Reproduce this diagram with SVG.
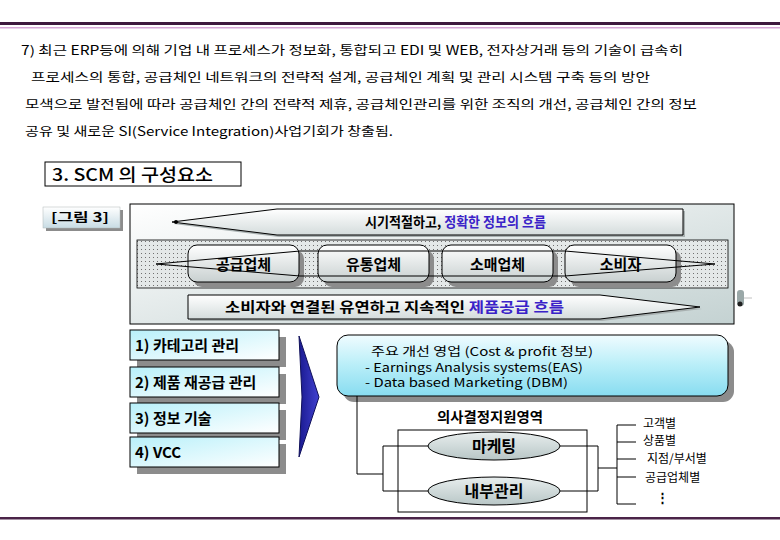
<svg xmlns="http://www.w3.org/2000/svg" width="780" height="540" viewBox="0 0 780 540">
<defs>
<linearGradient id="gPanel" x1="0" y1="0" x2="1" y2="1">
<stop offset="0" stop-color="#ffffff"/><stop offset="1" stop-color="#c4d2d2"/>
</linearGradient>
<linearGradient id="gBand" x1="0" y1="0" x2="0" y2="1">
<stop offset="0" stop-color="#ffffff"/><stop offset="1" stop-color="#d4dcdc"/>
</linearGradient>
<linearGradient id="gRound" x1="0" y1="0" x2="0" y2="1">
<stop offset="0" stop-color="#ffffff"/><stop offset="1" stop-color="#c8d0d0"/>
</linearGradient>
<linearGradient id="gCyan" x1="0" y1="0" x2="1" y2="1">
<stop offset="0" stop-color="#b8f0fa"/><stop offset="1" stop-color="#ffffff"/>
</linearGradient>
<linearGradient id="gCyanBox" x1="0" y1="0" x2="0" y2="1">
<stop offset="0" stop-color="#f0fcff"/><stop offset="0.5" stop-color="#b8eef8"/><stop offset="1" stop-color="#88dcf0"/>
</linearGradient>
<linearGradient id="gBlue" x1="0" y1="0" x2="1" y2="0">
<stop offset="0" stop-color="#1a1a90"/><stop offset="1" stop-color="#4040d0"/>
</linearGradient>
<linearGradient id="gEll" x1="0" y1="0" x2="0" y2="1">
<stop offset="0" stop-color="#e8eeee"/><stop offset="1" stop-color="#b8c6c6"/>
</linearGradient>
<linearGradient id="gTag" x1="0" y1="0" x2="0" y2="1">
<stop offset="0" stop-color="#ffffff"/><stop offset="1" stop-color="#c8dce4"/>
</linearGradient>
<pattern id="dots" width="4" height="4" patternUnits="userSpaceOnUse">
<rect width="4" height="4" fill="#e4e8e8"/><rect x="1" y="1" width="1" height="1" fill="#707070"/>
</pattern>
</defs>
<style>
.t{font-family:"Noto Sans CJK KR","Noto Sans",sans-serif;fill:#000}
.body{font-size:12.5px}
.b{font-weight:bold}
.blue{fill:#3a22c8}
.ln{stroke:#000;stroke-width:1;fill:none}
.shadow{fill:#8c8c8c}
</style>
<rect width="780" height="540" fill="#ffffff"/>
<!-- rules -->
<rect x="0" y="22" width="780" height="3" fill="#3e1a3e"/>
<rect x="0" y="27" width="780" height="1.5" fill="#d8a8d8"/>
<rect x="0" y="517" width="780" height="2.5" fill="#4a2448"/>

<g id="paragraph">
<text class="t body" x="21" y="55" textLength="662" lengthAdjust="spacingAndGlyphs">7) 최근 ERP등에 의해 기업 내 프로세스가 정보화, 통합되고 EDI 및 WEB, 전자상거래 등의 기술이 급속히</text>
<text class="t body" x="31" y="82" textLength="619" lengthAdjust="spacingAndGlyphs">프로세스의 통합, 공급체인 네트워크의 전략적 설계, 공급체인 계획 및  관리 시스템 구축 등의 방안</text>
<text class="t body" x="25" y="109" textLength="672" lengthAdjust="spacingAndGlyphs">모색으로 발전됨에 따라 공급체인 간의 전략적 제휴, 공급체인관리를 위한 조직의 개선, 공급체인 간의 정보</text>
<text class="t body" x="25" y="136" textLength="368" lengthAdjust="spacingAndGlyphs">공유 및 새로운 SI(Service Integration)사업기회가 창출됨.</text>
</g>

<g id="title">
<rect x="45" y="162" width="196" height="24" fill="#ffffff" stroke="#000" stroke-width="1"/>
<text class="t" x="52" y="181" font-size="17" font-weight="500" textLength="161" lengthAdjust="spacingAndGlyphs">3. SCM 의 구성요소</text>
</g>

<g id="figure-tag">
<rect x="46" y="210" width="77" height="21" class="shadow"/>
<rect x="43" y="207" width="77" height="21" fill="url(#gTag)" stroke="#b0b8b8" stroke-width="0.5"/>
<text class="t b" x="51" y="222" font-size="12.5" textLength="58" lengthAdjust="spacingAndGlyphs">[그림 3]</text>
</g>

<g id="panel">
<rect x="130" y="204" width="604" height="120" fill="url(#gPanel)" stroke="#000" stroke-width="1"/>
</g>

<g id="info-flow">
<polygon points="174,224 279,211 685,211 685,237 279,237" fill="#a8b0b0"/>
<polygon points="172,222 277,209 683,209 683,235 277,235" fill="url(#gBand)" stroke="#000" stroke-width="1"/>
<circle cx="176" cy="222" r="2" fill="#000"/>
<text class="t b" x="365" y="227" font-size="14" textLength="181" lengthAdjust="spacingAndGlyphs">시기적절하고, <tspan class="blue">정확한 정보의 흐름</tspan></text>
</g>

<g id="partner-band">
<rect x="137" y="240" width="591" height="48" fill="url(#dots)" stroke="#000" stroke-width="0.8"/>
</g>

<g id="supplier">
<rect x="193" y="250" width="111" height="37" rx="9" class="shadow"/>
<rect x="188" y="245" width="111" height="37" rx="9" fill="url(#gRound)" stroke="#000" stroke-width="1"/>
<text class="t b" x="243.5" y="270" font-size="15" text-anchor="middle">공급업체</text>
</g>
<g id="distributor">
<rect x="323" y="250" width="111" height="37" rx="9" class="shadow"/>
<rect x="318" y="245" width="111" height="37" rx="9" fill="url(#gRound)" stroke="#000" stroke-width="1"/>
<text class="t b" x="373.5" y="270" font-size="15" text-anchor="middle">유통업체</text>
</g>
<g id="retailer">
<rect x="447" y="250" width="111" height="37" rx="9" class="shadow"/>
<rect x="442" y="245" width="111" height="37" rx="9" fill="url(#gRound)" stroke="#000" stroke-width="1"/>
<text class="t b" x="497.5" y="270" font-size="15" text-anchor="middle">소매업체</text>
</g>
<g id="consumer">
<rect x="570" y="250" width="111" height="37" rx="9" class="shadow"/>
<rect x="565" y="245" width="111" height="37" rx="9" fill="url(#gRound)" stroke="#000" stroke-width="1"/>
<text class="t b" x="620.5" y="270" font-size="15" text-anchor="middle">소비자</text>
</g>

<g id="product-flow">
<polygon points="190,297 602,297 702,309 602,321 190,321" fill="#a8b0b0"/>
<polygon points="188,295 600,295 700,307 600,319 188,319" fill="url(#gBand)" stroke="#000" stroke-width="1"/>
<text class="t b" x="225" y="312" font-size="14" textLength="339" lengthAdjust="spacingAndGlyphs">소비자와 연결된 유연하고 지속적인 <tspan class="blue">제품공급 흐름</tspan></text>
</g>

<g id="artifact">
<rect x="737" y="290" width="7" height="16" rx="3" fill="#9aa8a8"/>
<circle cx="740" cy="304" r="2.5" fill="#202020"/>
<line x1="744" y1="298" x2="752" y2="298" stroke="#c0c0c0" stroke-width="1"/>
</g>

<g id="list-1">
<rect x="137" y="337" width="149" height="30" class="shadow"/>
<rect x="130" y="330" width="149" height="30" fill="url(#gCyan)" stroke="#000" stroke-width="1"/>
<text class="t b" x="135" y="351" font-size="15">1) 카테고리 관리</text>
</g>
<g id="list-2">
<rect x="137" y="374" width="149" height="30" class="shadow"/>
<rect x="130" y="367" width="149" height="30" fill="url(#gCyan)" stroke="#000" stroke-width="1"/>
<text class="t b" x="135" y="388" font-size="15">2) 제품 재공급 관리</text>
</g>
<g id="list-3">
<rect x="137" y="410" width="149" height="30" class="shadow"/>
<rect x="130" y="403" width="149" height="30" fill="url(#gCyan)" stroke="#000" stroke-width="1"/>
<text class="t b" x="135" y="424" font-size="15">3) 정보 기술</text>
</g>
<g id="list-4">
<rect x="137" y="444" width="149" height="30" class="shadow"/>
<rect x="130" y="437" width="149" height="30" fill="url(#gCyan)" stroke="#000" stroke-width="1"/>
<text class="t b" x="135" y="458" font-size="15">4) VCC</text>
</g>

<g id="chevron">
<polygon points="299,336 319,397 299,457 302,397" fill="url(#gBlue)" stroke="#10105a" stroke-width="1"/>
</g>

<g id="improve-box">
<rect x="343" y="341" width="391" height="61" rx="11" fill="#8c8c8c"/>
<rect x="337" y="335" width="391" height="61" rx="11" fill="url(#gCyanBox)" stroke="#000" stroke-width="1"/>
<text class="t" x="371" y="356" font-size="12" textLength="222" lengthAdjust="spacingAndGlyphs">주요 개선 영업 (Cost &amp; profit 정보)</text>
<text class="t" x="365" y="371.5" font-size="12" textLength="218" lengthAdjust="spacingAndGlyphs">- Earnings Analysis systems(EAS)</text>
<text class="t" x="365" y="387" font-size="12" textLength="203" lengthAdjust="spacingAndGlyphs">- Data based Marketing (DBM)</text>
</g>

<g id="decision-area">
<text class="t b" x="490" y="422" font-size="14" text-anchor="middle" textLength="106" lengthAdjust="spacingAndGlyphs">의사결정지원영역</text>
<rect x="398" y="430" width="189" height="82" fill="none" stroke="#000" stroke-width="1"/>
</g>
<g id="marketing">
<ellipse cx="494" cy="446" rx="66" ry="14" fill="url(#gEll)" stroke="#000" stroke-width="1"/>
<text class="t b" x="494" y="452" font-size="16" text-anchor="middle">마케팅</text>
</g>
<g id="internal">
<ellipse cx="494" cy="491" rx="66" ry="14" fill="url(#gEll)" stroke="#000" stroke-width="1"/>
<text class="t b" x="494" y="497" font-size="16" text-anchor="middle">내부관리</text>
</g>

<g id="dimensions">
<text class="t" x="643" y="428" font-size="12">고객별</text>
<text class="t" x="643" y="445" font-size="12">상품별</text>
<text class="t" x="647" y="463" font-size="12">지점/부서별</text>
<text class="t" x="645" y="482" font-size="12">공급업체별</text>
<text class="t b" x="656" y="502" font-size="13">⋮</text>
</g>

<g id="connectors">
<polygon class="ln" points="156,264 300,251 565,251 715,264 565,276 300,276" stroke-width="1.2"/>
<polyline class="ln" points="357,396 357,474 383,474"/>
<polyline class="ln" points="428,446 383,446 383,491 428,491"/>
<polyline class="ln" points="560,446 598,446 598,491 560,491"/>
<line class="ln" x1="598" y1="468" x2="617" y2="468"/>
<line class="ln" x1="617" y1="425" x2="617" y2="504"/>
<line class="ln" x1="617" y1="425" x2="636" y2="425"/>
<line class="ln" x1="617" y1="442" x2="636" y2="442"/>
<line class="ln" x1="617" y1="459" x2="636" y2="459"/>
<line class="ln" x1="617" y1="477" x2="636" y2="477"/>
<line class="ln" x1="617" y1="504" x2="636" y2="504"/>
</g>
</svg>
